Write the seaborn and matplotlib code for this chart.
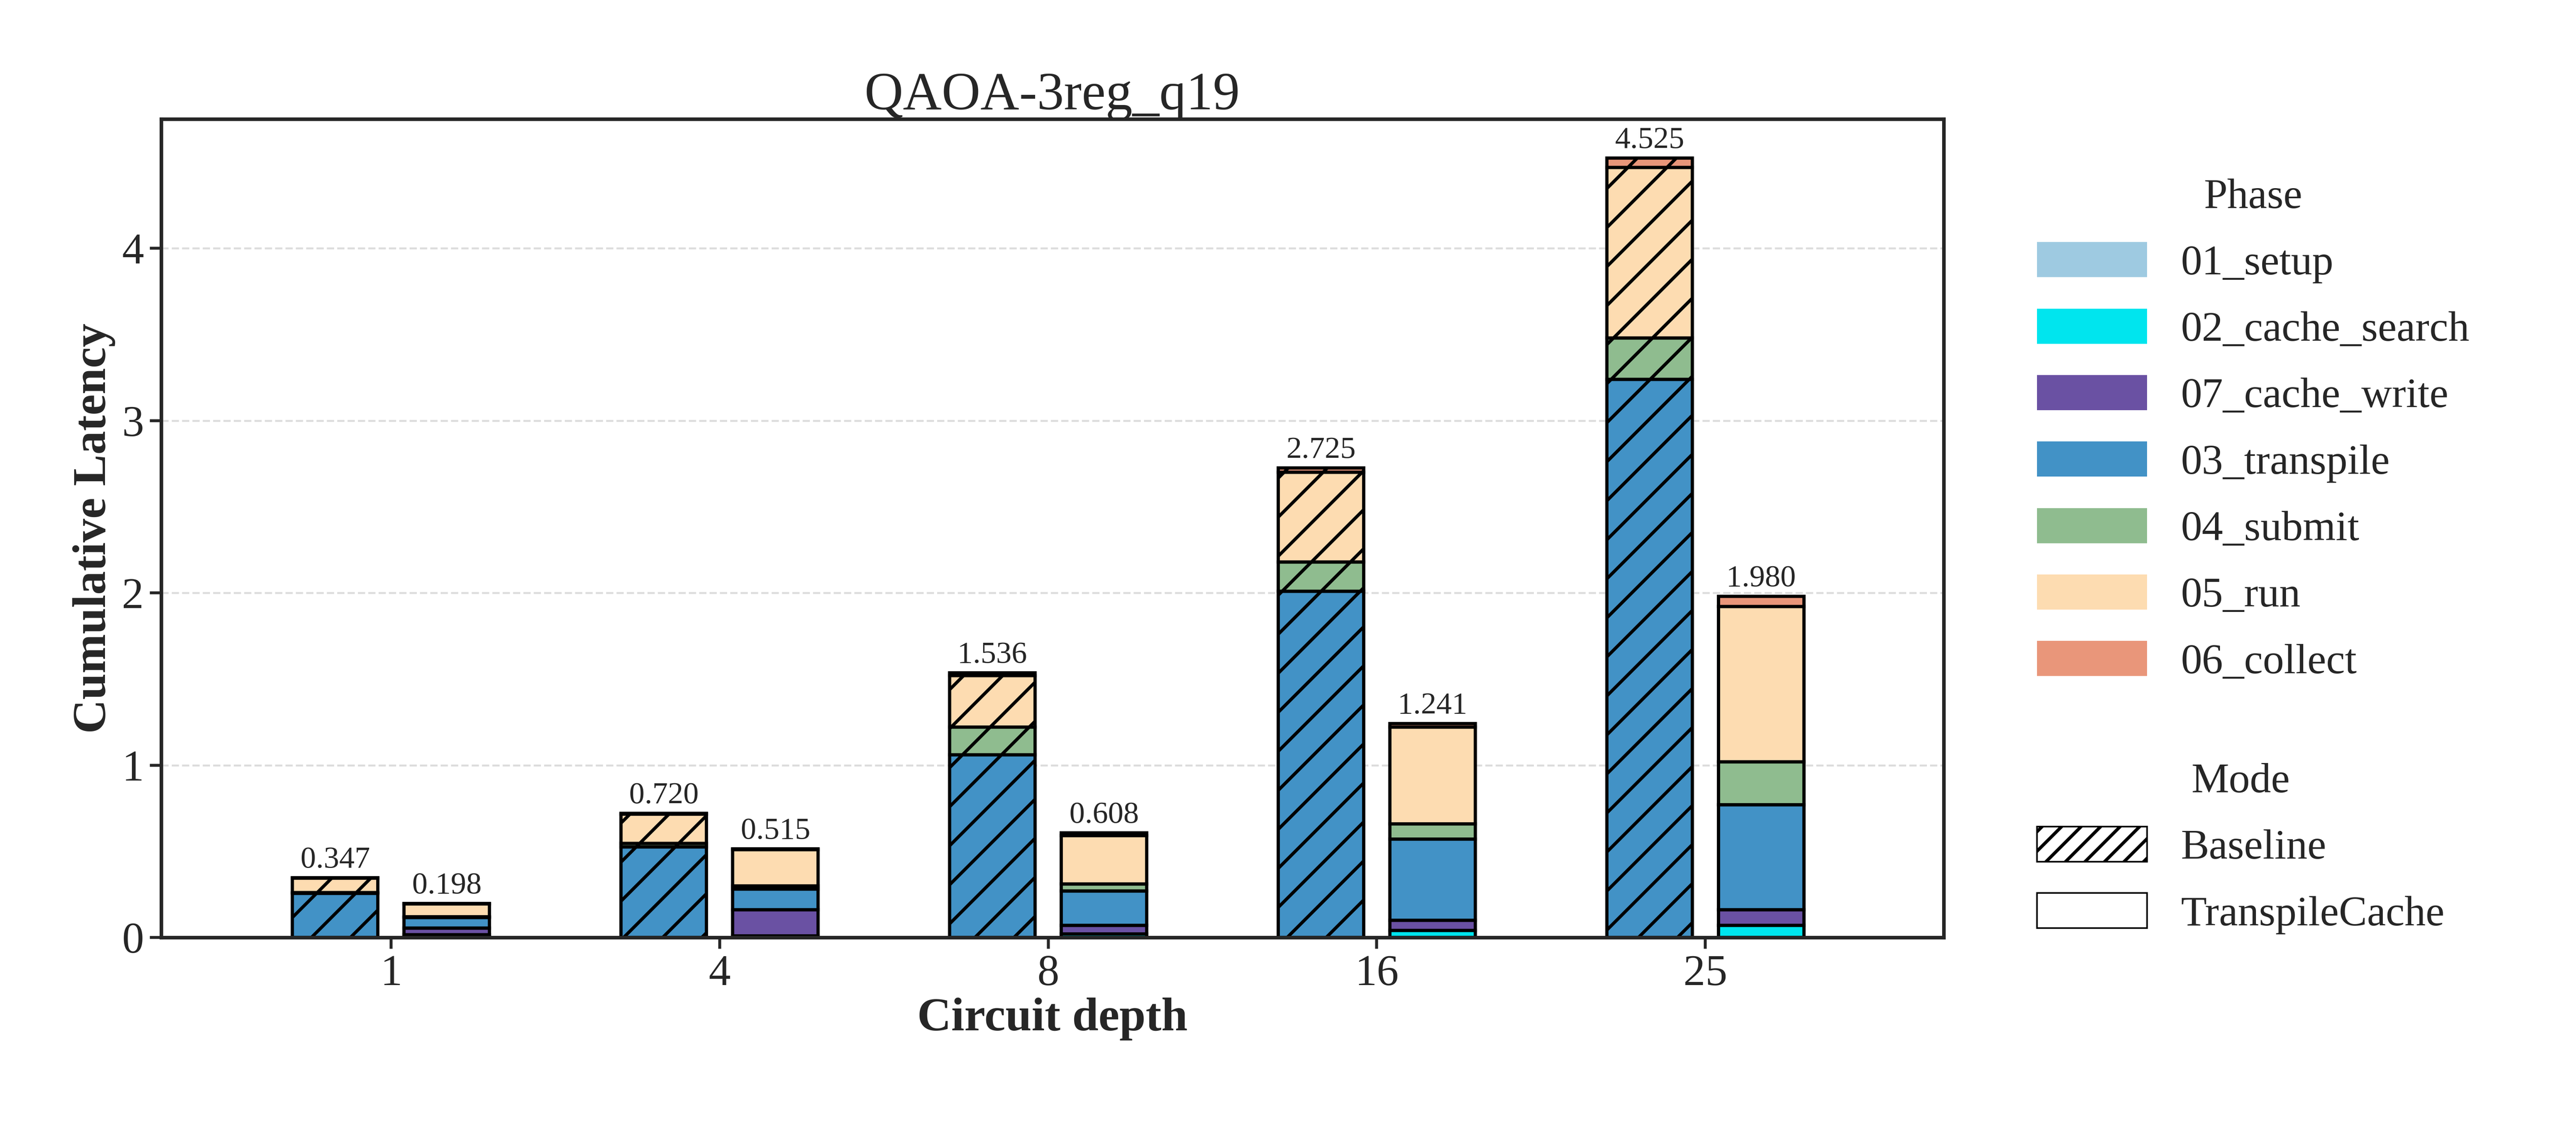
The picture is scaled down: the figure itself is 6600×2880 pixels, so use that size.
import numpy as np
import seaborn as sns
import matplotlib.pyplot as plt
from matplotlib.patches import Patch

depths = ['1', '4', '8', '16', '25']
phases = ['01_setup', '02_cache_search', '07_cache_write', '03_transpile', '04_submit', '05_run', '06_collect']
colors = ['#9ecae1', '#00e5ee', '#6a51a3', '#4292c6', '#8fbc8f', '#fddcb1', '#e9967a']

# per-phase latency, order as phases
baseline = {
    '01_setup':        [0.000, 0.000, 0.000, 0.000, 0.000],
    '02_cache_search': [0.000, 0.000, 0.000, 0.000, 0.000],
    '07_cache_write':  [0.000, 0.000, 0.000, 0.000, 0.000],
    '03_transpile':    [0.255, 0.525, 1.060, 2.010, 3.240],
    '04_submit':       [0.005, 0.020, 0.160, 0.170, 0.240],
    '05_run':          [0.085, 0.170, 0.300, 0.520, 0.990],
    '06_collect':      [0.002, 0.005, 0.016, 0.025, 0.055],
}
transpilecache = {
    '01_setup':        [0.005, 0.000, 0.000, 0.000, 0.000],
    '02_cache_search': [0.010, 0.010, 0.020, 0.040, 0.070],
    '07_cache_write':  [0.040, 0.150, 0.050, 0.060, 0.090],
    '03_transpile':    [0.060, 0.120, 0.200, 0.470, 0.610],
    '04_submit':       [0.005, 0.020, 0.040, 0.090, 0.250],
    '05_run':          [0.075, 0.210, 0.280, 0.560, 0.900],
    '06_collect':      [0.003, 0.005, 0.018, 0.021, 0.060],
}
totals_baseline = [0.347, 0.720, 1.536, 2.725, 4.525]
totals_cache = [0.198, 0.515, 0.608, 1.241, 1.980]

sns.set_style('white')
plt.rcParams['font.family'] = ['Liberation Serif', 'DejaVu Serif']
plt.rcParams['hatch.linewidth'] = 2.0

fig = plt.figure(figsize=(22, 9.6), dpi=300)
ax = fig.add_axes([0.0625, 0.166, 0.692, 0.728])

x = np.arange(len(depths))
w = 0.26
off = 0.17
for data, totals, shift, hatch in [(baseline, totals_baseline, -off, '/'),
                                   (transpilecache, totals_cache, off, None)]:
    bottom = np.zeros(len(depths))
    for p, c in zip(phases, colors):
        vals = np.array(data[p])
        ax.bar(x + shift, vals, w, bottom=bottom, color=c, edgecolor='black',
               linewidth=2, hatch=hatch)
        bottom += vals
    for xi, t in zip(x + shift, totals):
        ax.text(xi, t + 0.02, f'{t:.3f}', ha='center', va='bottom', fontsize=19)

ax.set_xticks(x)
ax.set_xticklabels(depths, fontsize=27)
ax.tick_params(axis='y', labelsize=27)
ax.tick_params(axis='both', direction='out', length=7, width=1.8, left=True, bottom=True)
ax.set_xlim(-0.7, 4.725)
ax.set_ylim(0, 4.75)
ax.set_yticks([0, 1, 2, 3, 4])
ax.yaxis.grid(True, linestyle='--', color='#dddddd', linewidth=1.2)
ax.set_axisbelow(True)
for s in ax.spines.values():
    s.set_linewidth(2.2)
ax.set_xlabel('Circuit depth', fontsize=29, fontweight='bold', labelpad=2)
ax.set_ylabel('Cumulative Latency', fontsize=29, fontweight='bold')
ax.set_title('QAOA-3reg_q19', fontsize=33)

phase_handles = [Patch(facecolor=c, edgecolor='none', label=p) for p, c in zip(phases, colors)]
fig.legend(handles=phase_handles, title='Phase', loc='upper left',
           bbox_to_anchor=(0.776, 0.875), frameon=False, fontsize=26,
           title_fontsize=26, handlelength=2.6, handleheight=0.9, labelspacing=0.6)
mode_handles = [Patch(facecolor='white', edgecolor='black', hatch='//', label='Baseline'),
                Patch(facecolor='white', edgecolor='black', label='TranspileCache')]
fig.legend(handles=mode_handles, title='Mode', loc='upper left',
           bbox_to_anchor=(0.776, 0.355), frameon=False, fontsize=26,
           title_fontsize=26, handlelength=2.6, handleheight=0.9, labelspacing=0.6)

fig.savefig('out.png', dpi=300)
